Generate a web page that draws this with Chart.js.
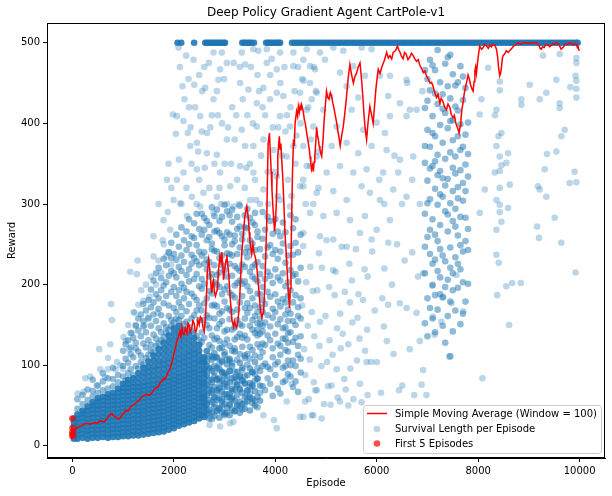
<!DOCTYPE html>
<html>
<head>
<meta charset="utf-8">
<script src="https://cdn.jsdelivr.net/npm/chart.js@4.4.1/dist/chart.umd.min.js"></script>
<style>
  html, body { margin: 0; padding: 0; background: #fff; }
  #wrap { width: 612px; height: 496px; }
</style>
</head>
<body>
<div id="wrap"><canvas id="agent-chart" width="612" height="496"></canvas></div>
<script>
var chartTitle = "Deep Policy Gradient Agent CartPole-v1";
var xTitle = "Episode";
var yTitle = "Reward";
var legendLabels = ["Simple Moving Average (Window = 100)", "Survival Length per Episode", "First 5 Episodes"];
var xTicks = [0, 2000, 4000, 6000, 8000, 10000];
var yTicks = [0, 100, 200, 300, 400, 500];

// first five episodes (red dots at x = 0)
var firstEpisodes = [0, 1, 2, 3, 4];
var firstRewards = [17, 34, 12, 22, 14];

// episodes that hit the 500 cap
var maxedEpisodes = [2073, 2146, 2400,
  2620, 2655, 2690, 2730, 2765, 2800, 2840, 2875, 2910, 2950, 2985, 3010,
  3350, 3385, 3420, 3460, 3495, 3530, 3580,
  3820, 3855, 3890, 3925, 3960, 4000, 4035, 4070, 4095,
  4330, 4385, 4440, 4490, 4545, 4600, 4650, 4705, 4760, 4810, 4865, 4920, 4970, 5025, 5080, 5130,
  5185, 5240, 5290, 5345, 5400, 5450, 5505, 5560, 5610, 5665, 5720, 5770, 5825, 5880, 5930, 5985,
  6040, 6090, 6145, 6200, 6250, 6305, 6360, 6410, 6465, 6520, 6570, 6625, 6680, 6730, 6785, 6840,
  6890, 6945, 7000, 7050, 7105, 7160, 7210, 7265, 7320, 7370, 7425, 7480, 7530, 7585, 7640, 7690,
  7745, 7800, 7850, 7905, 7960, 8010, 8065, 8120, 8170, 8225, 8280, 8330, 8385, 8440, 8490, 8545,
  8600, 8650, 8705, 8760, 8810, 8865, 8920, 8970, 9025, 9080, 9130, 9185, 9240, 9290, 9345, 9400,
  9450, 9505, 9560, 9610, 9665, 9720, 9770, 9825, 9880, 9930, 9960];

// saturated early cloud: [episode, rewards in that column]
var coreColumns = [
  [30, [9, 14, 19, 24, 29, 34]],
  [100, [9, 14, 19, 24, 29, 34, 39]],
  [200, [10, 15, 20, 25, 30, 35, 40, 44]],
  [300, [9, 14, 19, 24, 29, 34, 39, 44, 49]],
  [400, [10, 15, 20, 25, 30, 35, 40, 45, 50, 54]],
  [500, [10, 15, 20, 25, 30, 35, 40, 45, 50, 55, 59]],
  [600, [11, 16, 21, 26, 31, 36, 41, 46, 51, 56, 61]],
  [700, [10, 15, 20, 25, 30, 35, 40, 45, 50, 55, 60, 64]],
  [800, [11, 16, 21, 26, 31, 36, 41, 46, 51, 56, 61, 66]],
  [900, [11, 16, 21, 26, 31, 36, 41, 46, 51, 56, 61, 66, 71]],
  [1000, [12, 17, 22, 27, 32, 37, 42, 47, 52, 57, 62, 67, 72, 77]],
  [1100, [12, 17, 22, 27, 32, 37, 42, 47, 52, 57, 62, 67, 72, 77, 82]],
  [1200, [13, 18, 23, 28, 33, 38, 43, 48, 53, 58, 63, 68, 73, 78, 84]],
  [1300, [13, 18, 23, 28, 33, 38, 43, 48, 53, 58, 63, 68, 73, 78, 84, 90]],
  [1400, [14, 19, 24, 29, 34, 39, 44, 49, 54, 59, 64, 69, 74, 79, 85, 91, 97]],
  [1500, [15, 20, 25, 30, 35, 40, 45, 50, 55, 60, 65, 70, 75, 80, 86, 92, 98, 105]],
  [1600, [16, 21, 26, 31, 36, 41, 46, 51, 56, 61, 66, 71, 76, 81, 87, 93, 99, 106, 112]],
  [1700, [17, 22, 27, 32, 37, 42, 47, 52, 57, 62, 67, 72, 77, 82, 88, 94, 100, 106, 113, 120]],
  [1800, [18, 23, 28, 33, 38, 43, 48, 53, 58, 63, 68, 73, 78, 83, 89, 95, 101, 107, 114, 121, 128]],
  [1900, [20, 25, 30, 35, 40, 45, 50, 55, 60, 65, 70, 75, 80, 85, 91, 97, 103, 109, 116, 123, 130, 137]],
  [2000, [22, 27, 32, 37, 42, 47, 52, 57, 62, 67, 72, 77, 82, 87, 93, 99, 105, 111, 118, 125, 132, 139, 146]],
  [2100, [25, 30, 35, 40, 45, 50, 55, 60, 65, 70, 75, 80, 85, 90, 96, 102, 108, 114, 121, 128, 135, 142, 149]],
  [2200, [27, 32, 37, 42, 47, 52, 57, 62, 67, 72, 77, 82, 87, 92, 98, 104, 110, 116, 123, 130, 137, 144]],
  [2300, [29, 34, 39, 44, 49, 54, 59, 64, 69, 74, 79, 84, 89, 94, 100, 106, 112, 118, 125, 132, 139]],
  [2400, [31, 36, 41, 46, 51, 56, 61, 66, 71, 76, 81, 86, 91, 96, 102, 108, 114, 120, 127, 134]],
  [2500, [34, 39, 44, 49, 54, 59, 64, 69, 74, 79, 84, 89, 94, 100, 106, 112, 118, 125]],
  [2600, [36, 42, 48, 54, 60, 66, 72, 78, 84, 90, 96, 103, 110]]
];

// fading edge of the dense cloud
var denseColumns = [
  [2650, [39, 51, 63, 76, 89, 104, 118]], [2700, [34, 45, 57, 70, 82, 96, 111]],
  [2750, [41, 54, 66, 79, 93, 107]], [2800, [37, 48, 60, 73, 86, 99, 115]],
  [2850, [44, 57, 69, 83, 97, 110]], [2900, [35, 47, 59, 72, 84, 95, 121]],
  [2950, [42, 55, 67, 81, 92, 106]], [3000, [40, 52, 64, 77, 90, 113]],
  [3050, [47, 60, 73, 87, 101]], [3100, [38, 51, 65, 79, 93, 108]],
  [3150, [45, 58, 71, 84, 99]], [3200, [43, 56, 70, 85, 117]],
  [3250, [49, 63, 76, 92]], [3300, [41, 55, 70, 86, 103]],
  [3350, [52, 66, 81, 97]], [3400, [46, 61, 77, 112]],
  [3450, [55, 69, 88]], [3500, [44, 60, 78, 96]],
  [3550, [58, 74, 91]], [3600, [50, 68, 104]], [3650, [61, 83]], [3700, [56, 75]]
];

// medium density band
var midColumns = [
  [100, [46, 58]], [200, [52, 63]], [300, [57, 70]], [400, [61, 68, 82]], [500, [66, 75]],
  [600, [69, 80, 90]], [700, [71, 84]], [800, [74, 83, 97]], [900, [79, 88]],
  [1000, [86, 99, 118]], [1050, [81, 108, 126]], [1100, [90, 103, 131]], [1150, [95, 114, 122, 140]],
  [1200, [88, 110, 134]], [1250, [99, 121, 128, 149]], [1300, [96, 117, 143, 158]], [1350, [104, 112, 136, 163]],
  [1400, [101, 127, 148, 155, 176]], [1450, [109, 122, 141, 168]], [1500, [113, 131, 158, 181]],
  [1550, [118, 125, 149, 172, 194]], [1600, [116, 138, 163, 178, 205]], [1650, [124, 133, 155, 188, 214]],
  [1700, [127, 146, 170, 183, 221]], [1750, [131, 141, 162, 193, 208]], [1800, [135, 152, 177, 199, 232]],
  [1850, [140, 147, 186, 203, 224]], [1900, [144, 161, 174, 211, 240]], [1950, [149, 156, 191, 217, 233, 252]],
  [2000, [153, 171, 197, 214, 238]], [2050, [158, 166, 186, 209, 231, 262]], [2100, [156, 178, 193, 222, 247]],
  [2150, [161, 172, 201, 217, 236, 271]], [2200, [151, 183, 196, 228, 255]], [2250, [154, 167, 191, 212, 243, 266]],
  [2300, [147, 176, 204, 219, 250, 281]], [2350, [143, 158, 189, 226, 237, 260]],
  [2400, [140, 162, 185, 207, 233, 258, 276]], [2450, [136, 168, 181, 213, 229, 249, 288]],
  [2500, [131, 156, 174, 198, 224, 241, 269]],
  [2550, [38, 61, 77, 104, 129, 141, 168, 195, 207, 236, 262, 288]],
  [2600, [50, 58, 93, 108, 134, 156, 177, 201, 226, 240, 268, 283]],
  [2650, [45, 53, 86, 99, 117, 150, 162, 183, 219, 231, 255, 279]],
  [2700, [41, 66, 74, 97, 125, 146, 159, 192, 210, 228, 259, 274]],
  [2750, [33, 69, 82, 111, 122, 137, 174, 189, 213, 244, 251, 296]],
  [2800, [52, 60, 91, 110, 132, 158, 175, 203, 224, 242, 266, 285]],
  [2850, [43, 66, 82, 109, 134, 146, 173, 200, 212, 241, 267, 293]],
  [2900, [46, 71, 79, 102, 130, 151, 164, 197, 215, 233, 264, 279]],
  [2950, [50, 58, 91, 104, 122, 155, 167, 188, 224, 236, 260, 284]],
  [3000, [38, 74, 87, 116, 127, 142, 179, 194, 218, 249, 256, 299]],
  [3050, [41, 64, 80, 107, 132, 144, 171, 198, 210, 239, 265, 291]],
  [3100, [52, 60, 93, 106, 124, 157, 169, 190, 226, 238, 262, 286]],
  [3150, [60, 68, 103, 118, 144, 166, 187, 211, 236, 250, 278, 293]],
  [3200, [43, 79, 92, 121, 132, 147, 184, 199, 223, 254, 261]],
  [3250, [51, 76, 84, 107, 135, 156, 169, 202, 220, 238, 269, 284]],
  [3300, [48, 71, 87, 114, 139, 151, 178, 205, 217, 246, 272, 298]],
  [3350, [45, 81, 94, 123, 134, 149, 186, 201, 225, 256, 263]],
  [3400, [53, 78, 86, 109, 137, 158, 171, 204, 222, 240, 271, 286]],
  [3450, [60, 68, 101, 114, 132, 165, 177, 198, 234, 246, 270, 294]],
  [3500, [65, 73, 108, 123, 149, 171, 192, 216, 241, 255, 283]],
  [3550, [53, 76, 92, 119, 144, 156, 183, 210, 222, 251, 277]],
  [3600, [56, 81, 89, 112, 140, 161, 174, 207, 225, 243, 274, 289]],
  [3650, [48, 84, 97, 126, 137, 144, 152, 166, 189, 204, 228, 259, 266]],
  [3700, [66, 93, 110, 122, 139, 151, 158, 172, 188, 213, 244]],
  [3750, [74, 99, 116, 127, 142, 149, 166, 181, 197, 223, 257, 290]],
  [3800, [69, 102, 125, 153, 176, 207, 235, 268]],
  [3850, [84, 98, 137, 162, 191, 216, 246, 284]],
  [3900, [77, 95, 131, 148, 185, 211, 249, 279]],
  [3950, [62, 110, 121, 159, 170, 202, 238, 263]],
  [4000, [88, 101, 139, 166, 188, 219, 243, 281]],
  [4050, [71, 104, 127, 151, 179, 209, 232, 266]],
  [4100, [65, 113, 124, 157, 173, 205, 241, 260]],
  [4150, [79, 97, 133, 146, 182, 214, 251, 277]],
  [4200, [81, 99, 119, 133, 147, 163, 178, 198, 227, 265]],
  [4250, [89, 106, 117, 128, 140, 155, 169, 186, 203, 236]],
  [4300, [86, 100, 141, 164, 193, 218, 248, 286]],
  [4350, [73, 106, 129, 155, 178, 211, 237, 270]],
  [4400, [80, 99, 134, 150, 187, 213, 252, 281]],
  [4450, [67, 113, 124, 161, 172, 204, 240]],
  [4500, [91, 108, 136, 158, 183, 221, 262]],
  [6950, [152, 214, 247, 288, 351, 372, 419, 466]],
  [7000, [136, 183, 259, 301, 329, 392, 428, 455]],
  [7050, [171, 238, 268, 306, 344, 371, 441, 479]],
  [7100, [158, 199, 226, 281, 347, 388, 409, 472]],
  [7150, [141, 187, 231, 262, 319, 353, 384, 437, 466]],
  [7200, [169, 217, 254, 299, 336, 361, 424, 491]],
  [7250, [188, 209, 244, 274, 312, 341, 398, 451]],
  [7300, [149, 184, 236, 309, 332, 376, 418, 436]],
  [7350, [128, 197, 229, 291, 323, 356, 413, 474]],
  [7400, [161, 206, 266, 287, 331, 394, 446, 482]],
  [7450, [111, 179, 221, 246, 301, 364, 403, 431, 485]],
  [7500, [142, 193, 214, 279, 316, 345, 379, 404, 461]],
  [7550, [168, 234, 272, 294, 338, 359, 421, 447]],
  [7600, [196, 226, 261, 307, 321, 384, 416, 451]],
  [7650, [151, 219, 249, 284, 342, 367, 399, 471]],
  [7700, [164, 203, 241, 304, 326, 371, 429, 458]],
  [7750, [179, 254, 283, 316, 349, 386, 444]],
  [7800, [201, 243, 269, 334, 362, 401]]
];

// sparse dots, [episode, reward]
var lightPoints = [
  [105, 65], [223, 67], [256, 84], [354, 86], [531, 120], [703, 109], [748, 126], [762, 176], [781, 156], [880, 104],
  [1010, 135], [1142, 216], [1273, 213], [1286, 230], [1207, 166], [1226, 165], [1358, 193], [1600, 235], [1600, 260],
  [1797, 280], [1929, 268], [1864, 330], [1896, 350], [1982, 411], [2040, 387], [2060, 409], [2060, 330], [1994, 305],
  [480, 75], [650, 85], [950, 100], [550, 95], [700, 95], [850, 95], [1000, 95],
  [1050, 130], [1100, 150], [1180, 140], [1300, 175], [1400, 180],
  [1450, 200], [1500, 160], [1550, 210], [1650, 200], [1700, 230], [1750, 215], [1800, 250], [1850, 235], [1900, 240],
  [1950, 225], [1420, 150], [1680, 165], [1120, 120], [1250, 150], [1520, 185], [1780, 255], [1880, 290], [1700, 300], [1950, 320],
  [2171, 446], [2244, 484], [2093, 494], [2388, 479], [2402, 448], [2500, 460], [2618, 444], [2191, 403], [2277, 388],
  [2323, 372], [2455, 376], [2520, 409], [2651, 388], [2782, 430], [2880, 454], [2913, 467], [2782, 488], [2946, 488],
  [3045, 475], [2651, 363], [2848, 361], [3045, 380], [2913, 339], [2455, 343], [2191, 339], [2356, 309], [2585, 314],
  [2258, 285], [2782, 289], [3110, 322], [3307, 347], [3406, 372], [3340, 392], [3569, 372], [3635, 396], [3471, 442],
  [3635, 425], [3307, 450], [3340, 488], [3569, 492], [3668, 490], [3406, 473], [3832, 492], [4094, 488], [3832, 475],
  [4030, 467], [3766, 444], [4030, 438], [3898, 430], [4094, 409], [4160, 434], [4357, 471], [4357, 488], [4553, 479],
  [4488, 438], [4685, 450], [4783, 467], [4718, 430], [4291, 396], [4357, 372], [4226, 359], [3963, 367], [3766, 380],
  [4030, 334], [4094, 305], [4291, 297], [4488, 322], [4620, 347], [4817, 359], [3766, 318], [3569, 339], [3504, 305],
  [3176, 297], [2848, 309], [2520, 297], [2126, 301],
  [2100, 355], [2150, 300], [2250, 320], [2300, 420], [2350, 350], [2450, 300], [2500, 330], [2550, 390], [2600, 470],
  [2700, 320], [2750, 410], [2850, 440], [2900, 320], [2950, 400], [3000, 350], [3050, 300], [3150, 420], [3200, 380],
  [3250, 330], [3300, 470], [3400, 320], [3450, 410], [3500, 350], [3600, 330], [3650, 460], [3700, 300], [3750, 420],
  [3850, 340], [3900, 460], [3950, 395], [4050, 310], [4100, 450], [4200, 390], [4250, 330], [4300, 420], [4400, 350],
  [4450, 470], [4500, 400], [4550, 330], [4650, 420], [4750, 300], [4800, 440],
  [2120, 470], [2210, 430], [2290, 455], [2330, 395], [2420, 420], [2480, 365], [2560, 440], [2610, 345], [2690, 475],
  [2720, 395], [2800, 350], [2870, 410], [2930, 300], [2990, 455], [3070, 395], [3130, 350], [3180, 475], [3230, 410],
  [3280, 300], [3360, 430], [3430, 345], [3520, 470], [3560, 400], [3620, 305], [3680, 440], [3720, 360], [3800, 410],
  [3860, 300], [3930, 480], [3990, 340], [4060, 395], [4130, 360], [4180, 470], [4230, 410], [4320, 310], [4380, 440],
  [4420, 385], [4530, 455], [4600, 300], [4700, 380], [4760, 470], [4850, 320],
  [2703, 26], [2913, 24], [3110, 28], [3176, 30], [3766, 38], [3976, 32], [4030, 22], [4226, 55], [4325, 77], [4488, 36],
  [4587, 55], [4718, 38], [4817, 69],
  [4620, 492], [4882, 488], [5144, 494], [5341, 490], [5702, 494], [5899, 492], [4685, 471], [4980, 479], [5276, 463],
  [5538, 471], [5768, 459], [6063, 459], [4555, 453], [4817, 438], [5079, 434], [5407, 446], [5637, 432], [6227, 434],
  [6260, 459], [6457, 425], [6588, 454], [6654, 417], [6785, 417], [4620, 417], [4948, 417], [4751, 396], [5210, 396],
  [5505, 417], [5735, 392], [5998, 401], [6161, 388], [6260, 409], [6588, 409], [4553, 372], [4849, 365], [5112, 372],
  [5407, 376], [5636, 363], [5899, 372], [6195, 367], [6457, 355], [6719, 359], [4685, 347], [5013, 339], [5276, 347],
  [5538, 339], [5801, 343], [6128, 339], [6424, 339], [4555, 322], [4817, 314], [5144, 316], [5407, 305], [5702, 322],
  [5866, 314], [6063, 305], [6325, 318], [6588, 309], [4685, 289], [4948, 285], [5210, 289], [5472, 280], [5768, 285],
  [5998, 268], [6260, 280], [4555, 264], [4882, 260], [5144, 256], [5407, 247], [5669, 264], [5899, 256], [6227, 252],
  [6050, 330], [6150, 300], [6350, 360], [6500, 300], [6600, 450], [6700, 330], [6850, 300], [6900, 440],
  [4555, 36], [4750, 38], [4915, 34], [5090, 51], [5275, 55], [5440, 50], [5540, 58], [5700, 54], [5820, 63], [5800, 104],
  [5890, 104], [6000, 104],
  [4550, 248], [4690, 222], [4860, 239], [5010, 255], [5140, 218], [5310, 247], [5460, 226], [5590, 244], [5760, 219], [5910, 241],
  [4610, 203], [4740, 192], [4920, 221], [5060, 197], [5190, 216], [5370, 191], [5510, 205], [5640, 188], [5820, 210],
  [4530, 174], [4720, 166], [4830, 193], [4990, 161], [5170, 187], [5280, 164], [5470, 178], [5620, 159], [5730, 181],
  [5960, 168], [6110, 183],
  [4640, 149], [4770, 136], [4880, 154], [5070, 131], [5220, 146], [5330, 139], [5520, 153], [5660, 133], [5810, 144], [6140, 148],
  [4570, 120], [4680, 107], [4870, 124], [5020, 104], [5130, 113], [5290, 121], [5440, 126], [5610, 106], [5770, 118],
  [4590, 88], [4760, 79], [4910, 99], [5040, 74], [5210, 95], [5360, 83], [5480, 96], [5670, 77],
  [4660, 58], [4790, 69], [4960, 52], [5110, 75], [5230, 60], [5390, 70],
  [6085, 66], [6330, 114], [6440, 69], [6505, 75], [6740, 63], [6980, 63], [6885, 76], [6915, 94], [6225, 175], [6455, 177],
  [6590, 171], [6785, 165], [6815, 210], [6915, 214], [6300, 200], [6550, 230], [6700, 240], [6150, 220], [6400, 250],
  [6850, 130], [6650, 120], [6200, 130],
  [7100, 200], [7310, 185], [7475, 177], [7705, 167], [7570, 212], [7275, 154], [7110, 160], [7140, 138], [7430, 111],
  [9935, 481], [9935, 475], [9920, 459], [9935, 453], [9935, 432], [9817, 445], [9935, 443], [9900, 340], [9935, 327],
  [9803, 326], [9541, 454], [9344, 438], [9213, 430], [9016, 448], [8852, 430], [8852, 423], [9278, 484], [9606, 486],
  [9606, 419], [9606, 425], [9705, 392], [9639, 384], [9541, 365], [9357, 362], [9311, 343], [9180, 322], [9213, 318],
  [9344, 309], [9508, 283], [9160, 272], [9200, 258], [9639, 252], [8425, 452], [8425, 441], [8360, 417], [8330, 410],
  [8195, 469], [8064, 430], [8031, 411], [8458, 388], [8400, 384], [8360, 372], [8425, 359], [8589, 363], [8556, 351],
  [8458, 348], [8327, 339], [8425, 341], [8622, 324], [8425, 320], [8360, 305], [8589, 295], [8425, 299], [8425, 290],
  [8360, 268], [8458, 278], [8031, 289], [8130, 318], [9920, 215], [8375, 187], [8555, 198], [8670, 202], [8840, 202],
  [8610, 150], [8085, 84], [8405, 227], [8360, 237]
];

// moving average, [episode, reward]
var smaPoints = [
  [0, 20], [40, 18], [90, 23], [160, 24], [230, 27], [290, 28], [360, 27], [420, 29], [480, 28], [550, 31], [620, 30],
  [700, 35], [740, 39], [780, 40], [820, 37], [860, 36], [910, 33], [960, 36], [1000, 40], [1060, 44], [1100, 43],
  [1140, 48], [1200, 51], [1250, 53], [1300, 56], [1340, 58], [1370, 61], [1420, 63], [1470, 64], [1520, 63],
  [1570, 66], [1610, 70], [1650, 72], [1690, 73], [1730, 78], [1770, 81], [1800, 84], [1830, 83], [1860, 87],
  [1890, 92], [1920, 95], [1950, 101], [1980, 107], [2000, 114], [2030, 121], [2060, 130], [2090, 135], [2120, 142],
  [2140, 136], [2160, 148], [2180, 139], [2200, 138], [2230, 146], [2260, 140], [2280, 152], [2300, 150], [2320, 141],
  [2350, 145], [2375, 155], [2400, 152], [2425, 141], [2450, 144], [2475, 156], [2500, 150], [2525, 160], [2550, 158],
  [2575, 147], [2600, 142], [2630, 165], [2660, 215], [2685, 231], [2705, 222], [2720, 210], [2735, 196], [2750, 190],
  [2765, 201], [2780, 205], [2800, 192], [2820, 186], [2840, 190], [2860, 195], [2885, 221], [2910, 235], [2930, 228],
  [2945, 240], [2965, 225], [2980, 206], [3010, 222], [3030, 231], [3045, 237], [3060, 226], [3080, 215], [3110, 185],
  [3145, 156], [3165, 151], [3180, 148], [3195, 155], [3210, 152], [3230, 147], [3250, 150], [3275, 162], [3300, 185],
  [3320, 214], [3340, 240], [3370, 262], [3400, 285], [3420, 291], [3440, 297], [3455, 290], [3470, 282], [3485, 265],
  [3500, 255], [3520, 245], [3535, 238], [3560, 250], [3580, 240], [3610, 233], [3635, 222], [3660, 205], [3680, 190],
  [3705, 170], [3735, 159], [3755, 164], [3770, 165], [3800, 210], [3830, 272], [3845, 330], [3860, 375], [3885, 388],
  [3905, 360], [3920, 340], [3935, 318], [3950, 300], [3965, 286], [3985, 266], [4005, 280], [4020, 300], [4035, 335],
  [4050, 360], [4065, 372], [4080, 384], [4095, 368], [4110, 375], [4130, 352], [4150, 330], [4170, 300], [4190, 265],
  [4215, 240], [4240, 210], [4260, 188], [4280, 171], [4295, 195], [4310, 230], [4325, 290], [4340, 340], [4360, 380],
  [4375, 372], [4390, 400], [4420, 415], [4440, 409], [4455, 421], [4475, 414], [4490, 421], [4505, 416], [4520, 423],
  [4540, 418], [4555, 413], [4575, 404], [4590, 401], [4620, 388], [4650, 376], [4670, 368], [4685, 359], [4700, 351],
  [4715, 343], [4735, 348], [4750, 340], [4765, 352], [4780, 360], [4800, 378], [4815, 395], [4830, 386], [4850, 380],
  [4865, 372], [4880, 368], [4900, 362], [4915, 359], [4940, 378], [4960, 400], [4985, 421], [5010, 440], [5035, 432],
  [5060, 430], [5085, 438], [5110, 434], [5135, 425], [5160, 418], [5185, 409], [5210, 401], [5230, 392], [5250, 385],
  [5280, 372], [5310, 385], [5340, 396], [5370, 412], [5400, 430], [5435, 455], [5470, 473], [5505, 460], [5540, 450],
  [5570, 458], [5600, 462], [5635, 470], [5670, 475], [5700, 455], [5730, 430], [5750, 410], [5770, 395], [5800, 380],
  [5830, 402], [5865, 421], [5900, 410], [5930, 400], [5955, 420], [5980, 440], [6005, 455], [6030, 467], [6065, 462],
  [6100, 470], [6150, 478], [6195, 488], [6230, 481], [6260, 484], [6295, 480], [6325, 488], [6370, 490], [6410, 496],
  [6435, 491], [6460, 488], [6490, 483], [6520, 480], [6550, 488], [6580, 486], [6615, 479], [6650, 482], [6685, 487],
  [6720, 484], [6750, 480], [6785, 477], [6820, 479], [6850, 472], [6885, 468], [6920, 463], [6950, 465], [6980, 459],
  [7015, 455], [7050, 450], [7080, 451], [7110, 446], [7145, 438], [7180, 432], [7210, 436], [7245, 425], [7270, 431],
  [7300, 428], [7340, 420], [7375, 417], [7405, 424], [7440, 420], [7470, 411], [7505, 407], [7530, 410], [7560, 400],
  [7590, 395], [7625, 388], [7645, 397], [7660, 405], [7680, 418], [7700, 425], [7725, 437], [7750, 445], [7775, 452],
  [7800, 460], [7825, 455], [7850, 448], [7875, 443], [7900, 440], [7920, 452], [7935, 465], [7950, 470], [7965, 462],
  [8000, 482], [8030, 496], [8065, 492], [8100, 494], [8130, 498], [8165, 496], [8200, 493], [8230, 497], [8260, 495],
  [8295, 498], [8330, 497], [8360, 492], [8385, 482], [8400, 470], [8425, 459], [8445, 463], [8460, 470], [8475, 480],
  [8490, 484], [8520, 486], [8555, 490], [8590, 488], [8620, 490], [8660, 493], [8700, 496], [8740, 498], [8785, 500],
  [8830, 498], [8870, 499], [8910, 500], [8950, 500], [9000, 499], [9050, 500], [9100, 500], [9150, 500], [9175, 498],
  [9200, 497], [9220, 493], [9245, 492], [9270, 495], [9300, 494], [9325, 497], [9350, 498], [9380, 497], [9410, 495],
  [9445, 497], [9480, 499], [9510, 498], [9540, 500], [9570, 499], [9600, 497], [9635, 492], [9670, 494], [9700, 497],
  [9730, 499], [9765, 498], [9800, 500], [9835, 499], [9870, 497], [9900, 499], [9935, 498], [9955, 494], [9970, 495],
  [9990, 490]
];

var BLUE = "31, 119, 180";
var FONT = "'DejaVu Sans', 'Liberation Sans', sans-serif";
var DOT = 3.3;

function fromColumns(cols) {
  var out = [];
  cols.forEach(function (c) {
    c[1].forEach(function (r) { out.push({ x: c[0], y: r }); });
  });
  return out;
}
function fromPairs(list) {
  return list.map(function (p) { return { x: p[0], y: p[1] }; });
}

// spines, title and legend the way matplotlib lays them out
var decorations = {
  id: "decorations",
  afterDraw: function (chart) {
    var ctx = chart.ctx, a = chart.chartArea;
    ctx.save();
    ctx.strokeStyle = "#000";
    ctx.lineWidth = 1;
    ctx.strokeRect(Math.round(a.left) + 0.5, Math.round(a.top) + 0.5,
      Math.round(a.right - a.left) - 1, Math.round(a.bottom - a.top) - 1);

    ctx.fillStyle = "#000";
    ctx.font = "12px " + FONT;
    ctx.textAlign = "center";
    ctx.textBaseline = "middle";
    ctx.fillText(chartTitle, (a.left + a.right) / 2, 13);

    // legend box, lower right
    var bx = a.right - 242, by = a.bottom - 53, bw = 238, bh = 48;
    ctx.beginPath();
    ctx.roundRect(bx + 0.5, by + 0.5, bw, bh, 3);
    ctx.fillStyle = "rgba(255,255,255,0.8)";
    ctx.fill();
    ctx.strokeStyle = "#cccccc";
    ctx.stroke();

    var mx = bx + 14, tx = bx + 32;
    var rows = [by + 8.5, by + 24, by + 38.5];
    ctx.strokeStyle = "red";
    ctx.lineWidth = 1.5;
    ctx.beginPath();
    ctx.moveTo(mx - 10, rows[0]);
    ctx.lineTo(mx + 10, rows[0]);
    ctx.stroke();
    ctx.fillStyle = "rgba(" + BLUE + ",0.3)";
    ctx.beginPath(); ctx.arc(mx, rows[1], DOT, 0, Math.PI * 2); ctx.fill();
    ctx.fillStyle = "rgba(255,0,0,0.7)";
    ctx.beginPath(); ctx.arc(mx, rows[2], DOT, 0, Math.PI * 2); ctx.fill();

    ctx.fillStyle = "#000";
    ctx.font = "10px " + FONT;
    ctx.textAlign = "left";
    for (var i = 0; i < 3; i++) ctx.fillText(legendLabels[i], tx, rows[i] + 0.5);
    ctx.restore();
  }
};

var axisStyle = {
  grid: { display: true, drawOnChartArea: false, drawTicks: true, tickLength: 4, color: "#000", tickColor: "#000" },
  border: { display: true, color: "#000", width: 1 },
  ticks: { color: "#000", padding: 3, font: { family: FONT, size: 10 }, callback: function (v) { return String(v); } }
};

window.onload = function () {
  var ctx = document.getElementById("agent-chart").getContext("2d");
  window.agentChart = new Chart(ctx, {
    type: "scatter",
    data: {
      datasets: [
        {
          label: legendLabels[0],
          data: fromPairs(smaPoints),
          showLine: true,
          borderColor: "red",
          borderWidth: 1.5,
          pointRadius: 0,
          tension: 0,
          order: 0
        },
        {
          label: legendLabels[2],
          data: firstEpisodes.map(function (e, i) { return { x: e, y: firstRewards[i] }; }),
          backgroundColor: "rgba(255,0,0,0.7)",
          order: 1
        },
        { label: legendLabels[1], data: fromColumns(coreColumns), backgroundColor: "rgba(" + BLUE + ",0.9)", order: 2 },
        { label: legendLabels[1], data: fromColumns(denseColumns), backgroundColor: "rgba(" + BLUE + ",0.6)", order: 3 },
        { label: legendLabels[1], data: fromColumns(midColumns), backgroundColor: "rgba(" + BLUE + ",0.5)", order: 4 },
        { label: legendLabels[1], data: fromPairs(lightPoints), backgroundColor: "rgba(" + BLUE + ",0.3)", order: 5 },
        {
          label: legendLabels[1],
          data: maxedEpisodes.map(function (e) { return { x: e, y: 500 }; }),
          backgroundColor: "rgba(" + BLUE + ",0.9)",
          order: 6
        }
      ]
    },
    options: {
      responsive: false,
      animation: false,
      layout: { padding: { top: 23, right: 7, left: 0, bottom: 0 } },
      elements: { point: { radius: DOT, hoverRadius: DOT, borderWidth: 0 } },
      plugins: { legend: { display: false }, tooltip: { enabled: false }, title: { display: false } },
      scales: {
        x: Object.assign({}, axisStyle, {
          type: "linear",
          min: -500,
          max: 10500,
          title: { display: true, text: xTitle, color: "#000", font: { family: FONT, size: 10 }, padding: { top: 0, bottom: 7 } },
          afterBuildTicks: function (s) { s.ticks = xTicks.map(function (v) { return { value: v }; }); },
          afterFit: function (s) { s.height = 38; }
        }),
        y: Object.assign({}, axisStyle, {
          type: "linear",
          min: -15,
          max: 524.5,
          title: { display: true, text: yTitle, color: "#000", font: { family: FONT, size: 10 }, padding: { top: 6, bottom: 0 } },
          afterBuildTicks: function (s) { s.ticks = yTicks.map(function (v) { return { value: v }; }); },
          afterFit: function (s) { s.width = 47; }
        })
      }
    },
    plugins: [decorations]
  });
};
</script>
</body>
</html>
